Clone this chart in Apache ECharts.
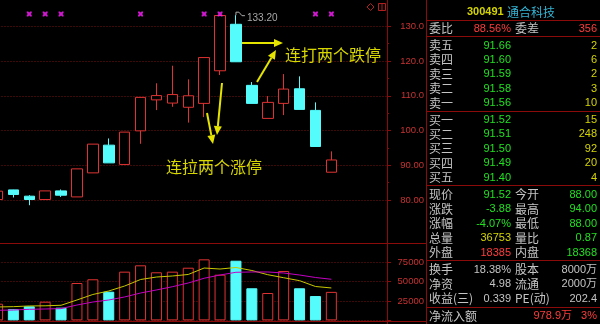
<!DOCTYPE html>
<html><head><meta charset="utf-8">
<script src="https://cdn.jsdelivr.net/npm/echarts@6/dist/echarts.min.js"></script>
<style>html,body{margin:0;padding:0;background:#000;}#c{width:600px;height:324px;}</style>
</head><body><div id="c"></div>
<script>
// ---------- data ----------
const days = ['D1','D2','D3','D4','D5','D6','D7','D8','D9','D10','D11','D12','D13','D14','D15','D16','D17','D18','D19','D20','D21','D22','D23','D24','D25'];
const opens  = [80.14, 82.91, 81.10, 80.14, 82.62, 80.89, 87.81, 95.79, 90.23, 99.91, 108.82, 107.90, 106.69, 107.81, 117.20, 130.58, 113.00, 103.49, 107.81, 112.02, 105.79, 88.00];
const closes = [82.54, 81.59, 80.14, 82.62, 81.38, 88.96, 96.08, 90.69, 99.54, 109.54, 110.06, 110.35, 110.00, 121.00, 133.10, 119.79, 107.81, 108.10, 111.93, 106.08, 95.40, 91.52];
const lows   = [80.10, 80.72, 78.50, 80.14, 80.89, 80.89, 87.81, 90.69, 90.23, 96.17, 105.88, 106.83, 102.28, 103.86, 115.97, 119.79, 107.81, 103.49, 104.44, 106.08, 95.40, 88.00];
const highs  = [82.60, 82.95, 81.38, 82.62, 83.03, 88.96, 96.08, 97.72, 99.54, 109.54, 113.60, 118.65, 114.73, 121.00, 133.10, 133.20, 113.95, 109.91, 116.25, 115.59, 108.10, 94.00];
const volumes = [21500, 14700, 18200, 24100, 16400, 48200, 53000, 37000, 62800, 71000, 62000, 62800, 67900, 78700, 58900, 76900, 41400, 35300, 63700, 41400, 31400, 36753];
const volMA5  = [17300, 17700, 18600, 18800, 19500, 26300, 33400, 37900, 44300, 52700, 55900, 57200, 59200, 67500, 66200, 68200, 64300, 58900, 55000, 51200, 43700, 41800];
const volMA10 = [13000, 13400, 14300, 14700, 15200, 19800, 23700, 26300, 30200, 35300, 39200, 43400, 48200, 54300, 58500, 62000, 62400, 62400, 61100, 58500, 55300, 53000];
const signalDays = [2, 3, 4, 9, 13, 14, 20, 21];
const priceTicks = [80, 90, 100, 110, 120, 130];
const priceTickLabels = ['80.00', '90.00', '100.0', '110.0', '120.0', '130.0'];
const volTicks = [25000, 50000, 75000];
const volTickLabels = ['25000', '50000', '75000'];

const stockCode = '300491';
const stockName = '通合科技';
const askLabels = ['卖五', '卖四', '卖三', '卖二', '卖一'];
const askPrices = ['91.66', '91.60', '91.59', '91.58', '91.56'];
const askVols = ['2', '6', '2', '3', '10'];
const bidLabels = ['买一', '买二', '买三', '买四', '买五'];
const bidPrices = ['91.52', '91.51', '91.50', '91.49', '91.40'];
const bidVols = ['15', '248', '92', '20', '4'];
const statLabels1 = ['现价', '涨跌', '涨幅', '总量', '外盘'];
const statValues1 = ['91.52', '-3.88', '-4.07%', '36753', '18385'];
const statLabels2 = ['今开', '最高', '最低', '量比', '内盘'];
const statValues2 = ['88.00', '94.00', '88.00', '0.87', '18368'];
const infoLabels1 = ['换手', '净资', '收益(三)'];
const infoValues1 = ['18.38%', '4.98', '0.339'];
const infoLabels2 = ['股本', '流通', 'PE(动)'];
const infoValues2 = ['8000万', '2000万', '202.4'];
const commissionRatio = '88.56%', commissionDiff = '356';
const netInflow = '978.9万', netInflowPct = '3%';
const noteUp = '连拉两个涨停', noteDown = '连打两个跌停';

// ---------- style ----------
const RED = '#e03232', CYAN = '#54fcfc', DARK = '#8b0a0a', GRID_DOT = '#7a1414';
const GREEN = '#20e020', YEL = '#d4d400', GRAY = '#c4c4c4', PRED = '#ff3c3c';
const NUM_FONT = '11px "Liberation Sans", "Noto Sans CJK SC"';
const CJK_FONT = '12px "Noto Sans CJK SC"';
const SIGNAL_LEVEL = 133.55;

let maxIdx = 0;
highs.forEach((h, i) => { if (h > highs[maxIdx]) maxIdx = i; });

const candleData = opens.map((o, i) => [o, closes[i], lows[i], highs[i]]);
const volData = volumes.map((v, i) => ({
  value: v,
  itemStyle: closes[i] >= opens[i]
    ? { color: '#000', borderColor: RED, borderWidth: 1 }
    : { color: CYAN, borderColor: CYAN, borderWidth: 1 }
}));

// ---------- graphics ----------
const g = [];
function hline(y, x1, x2) { g.push({ type: 'line', shape: { x1, y1: y, x2, y2: y }, style: { stroke: DARK, lineWidth: 1 }, z: 50 }); }
function vline(x, y1, y2) { g.push({ type: 'line', shape: { x1: x, y1, x2: x, y2 }, style: { stroke: DARK, lineWidth: 1 }, z: 50 }); }
function txt(text, x, y, fill, font, align) {
  g.push({ type: 'text', x, y, z: 60, style: { text, fill, font, align: align || 'left', verticalAlign: 'middle' } });
}
function arrow(x1, y1, x2, y2) {
  const a = Math.atan2(y2 - y1, x2 - x1), L = 9, W = 4;
  const bx = x2 - L * Math.cos(a), by = y2 - L * Math.sin(a);
  const px = -Math.sin(a) * W, py = Math.cos(a) * W;
  g.push({ type: 'line', z: 55, shape: { x1, y1, x2: bx, y2: by }, style: { stroke: '#e4e400', lineWidth: 2 } });
  g.push({ type: 'polygon', z: 55, shape: { points: [[x2, y2], [bx + px, by + py], [bx - px, by - py]] }, style: { fill: '#e4e400' } });
}

vline(387.5, 0, 324);
vline(426.5, 0, 324);
hline(243.5, 0, 426);
hline(321.5, 0, 426);
[20.5, 36.5, 111.5, 185.5, 260.5, 307.5].forEach(y => hline(y, 426, 600));

// top-right icons
g.push({ type: 'polygon', z: 60, shape: { points: [[370.5, 3.5], [374, 7], [370.5, 10.5], [367, 7]] }, style: { stroke: '#b02020', fill: null, lineWidth: 1 } });
g.push({ type: 'rect', z: 60, shape: { x: 378.5, y: 3.5, width: 7, height: 7 }, style: { stroke: '#b02020', fill: null, lineWidth: 1 } });
g.push({ type: 'line', z: 60, shape: { x1: 382, y1: 3.5, x2: 382, y2: 10.5 }, style: { stroke: '#b02020', lineWidth: 1 } });

// annotations
arrow(207, 113, 213, 144);
arrow(222, 83, 217, 135);
arrow(242, 43, 283, 43);
arrow(257, 82, 276, 50);
txt(noteUp, 166, 166.5, '#d8d800', '16px "Noto Sans CJK SC"');
txt(noteDown, 285, 54.5, '#d8d800', '16px "Noto Sans CJK SC"');

// quote panel
const L1 = 429, V1 = 511, L2 = 515, V2 = 597;
txt(stockCode, 467, 12, YEL, 'bold 11px "Liberation Sans"');
txt(stockName, 507, 12, '#34b4d4', CJK_FONT);
txt('委比', L1, 28.5, GRAY, CJK_FONT);
txt(commissionRatio, V1, 28.5, PRED, NUM_FONT, 'right');
txt('委差', L2, 28.5, GRAY, CJK_FONT);
txt(commissionDiff, V2, 28.5, PRED, NUM_FONT, 'right');
askLabels.forEach((l, i) => {
  const y = 45.5 + i * 14.4;
  txt(l, L1, y, GRAY, CJK_FONT);
  txt(askPrices[i], V1, y, GREEN, NUM_FONT, 'right');
  txt(askVols[i], V2, y, YEL, NUM_FONT, 'right');
});
bidLabels.forEach((l, i) => {
  const y = 120 + i * 14.4;
  txt(l, L1, y, GRAY, CJK_FONT);
  txt(bidPrices[i], V1, y, GREEN, NUM_FONT, 'right');
  txt(bidVols[i], V2, y, YEL, NUM_FONT, 'right');
});
const statColors1 = [GREEN, GREEN, GREEN, YEL, PRED];
statLabels1.forEach((l, i) => {
  const y = 194.5 + i * 14.5;
  txt(l, L1, y, GRAY, CJK_FONT);
  txt(statValues1[i], V1, y, statColors1[i], NUM_FONT, 'right');
  txt(statLabels2[i], L2, y, GRAY, CJK_FONT);
  txt(statValues2[i], V2, y, GREEN, NUM_FONT, 'right');
});
infoLabels1.forEach((l, i) => {
  const y = 269.5 + i * 14.5;
  txt(l, L1, y, GRAY, CJK_FONT);
  txt(infoValues1[i], V1, y, GRAY, NUM_FONT, 'right');
  txt(infoLabels2[i], L2, y, GRAY, CJK_FONT);
  txt(infoValues2[i], V2, y, GRAY, NUM_FONT, 'right');
});
txt('净流入额', L1, 316, GRAY, CJK_FONT);
txt(netInflow, 572, 316, PRED, NUM_FONT, 'right');
txt(netInflowPct, V2, 316, PRED, NUM_FONT, 'right');

// ---------- chart ----------
const chart = echarts.init(document.getElementById('c'), null, { renderer: 'canvas' });
const axisLblStyle = { color: '#c83232', fontSize: 9.5, fontFamily: 'Liberation Sans', align: 'right', margin: 37 };
chart.setOption({
  backgroundColor: '#000',
  animation: false,
  grid: [
    { left: -10.5, right: 213, top: 26.3, height: 173.7, outerBoundsMode: 'none', containLabel: false },
    { left: -10.5, right: 213, top: 242.8, height: 77.6, outerBoundsMode: 'none', containLabel: false }
  ],
  xAxis: [
    { type: 'category', data: days, gridIndex: 0, boundaryGap: true, show: false },
    { type: 'category', data: days, gridIndex: 1, boundaryGap: true, show: false }
  ],
  yAxis: [
    { type: 'value', gridIndex: 0, position: 'right', min: 80, max: 130, interval: 10, scale: true,
      axisLine: { show: false },
      axisTick: { show: true, length: 4, lineStyle: { color: DARK } },
      minorTick: { show: true, splitNumber: 2, length: 2, lineStyle: { color: DARK } },
      axisLabel: Object.assign({}, axisLblStyle, { formatter: v => { const k = priceTicks.indexOf(v); return k < 0 ? '' : priceTickLabels[k]; } }),
      splitLine: { show: true, lineStyle: { color: GRID_DOT, type: [1, 2], width: 1 } } },
    { type: 'value', gridIndex: 1, position: 'right', min: 0, max: 100000, interval: 25000,
      axisLine: { show: false },
      axisTick: { show: true, length: 4, lineStyle: { color: DARK } },
      axisLabel: Object.assign({}, axisLblStyle, { formatter: v => { const k = volTicks.indexOf(v); return k < 0 ? '' : volTickLabels[k]; } }),
      splitLine: { show: true, lineStyle: { color: GRID_DOT, type: [1, 2], width: 1 } } }
  ],
  series: [
    { type: 'candlestick', xAxisIndex: 0, yAxisIndex: 0, data: candleData, barWidth: 11, clip: false,
      itemStyle: { color: '#000', color0: CYAN, borderColor: RED, borderColor0: CYAN, borderWidth: 1 } },
    { type: 'scatter', xAxisIndex: 0, yAxisIndex: 0, clip: false,
      data: signalDays.map(i => [i, SIGNAL_LEVEL]),
      symbol: 'path://M0,0L3,0L5,2L7,0L10,0L10,3L8,5L10,7L10,10L7,10L5,8L3,10L0,10L0,7L2,5L0,3Z',
      symbolSize: 5, itemStyle: { color: '#ff20ff' } },
    { type: 'custom', xAxisIndex: 0, yAxisIndex: 0, clip: false, data: [[maxIdx, highs[maxIdx]]],
      renderItem: (params, api) => {
        const p = api.coord([api.value(0), api.value(1)]);
        return { type: 'group', children: [
          { type: 'polyline', shape: { points: [[p[0], p[1]], [p[0], p[1] - 3], [p[0] + 3, p[1] - 3], [p[0] + 6, p[1] + 0.5], [p[0] + 9, p[1] + 0.5]] },
            style: { stroke: '#a8a8a8', fill: null, lineWidth: 1 } },
          { type: 'text', x: p[0] + 11, y: p[1] + 3,
            style: { text: api.value(1).toFixed(2), fill: '#a8a8a8', font: '10px "Liberation Sans"', align: 'left', verticalAlign: 'middle' } }
        ] };
      } },
    { type: 'bar', xAxisIndex: 1, yAxisIndex: 1, data: volData, barWidth: 11 },
    { type: 'line', xAxisIndex: 1, yAxisIndex: 1, data: volMA5, symbol: 'none', lineStyle: { color: '#c8c800', width: 1 } },
    { type: 'line', xAxisIndex: 1, yAxisIndex: 1, data: volMA10, symbol: 'none', lineStyle: { color: '#c400c4', width: 1 } }
  ],
  graphic: g
});
</script></body></html>
